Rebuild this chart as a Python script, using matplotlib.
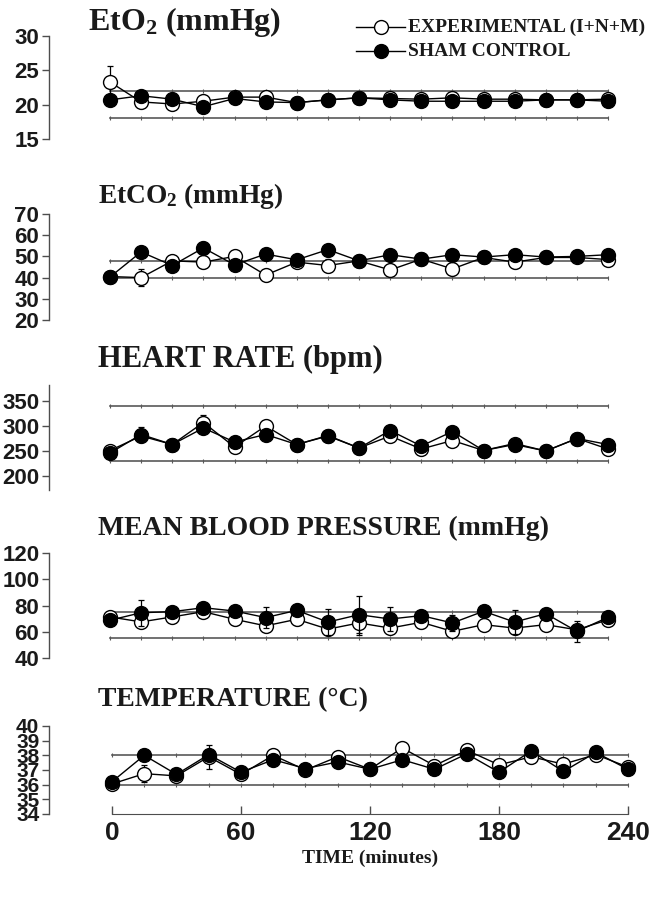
# physiological parameters over time, two groups, five stacked panels

import matplotlib.pyplot as plt
from matplotlib.lines import Line2D

plt.rcParams['font.family'] = ['Liberation Sans Narrow', 'Liberation Sans', 'DejaVu Sans']
plt.rcParams['mathtext.fontset'] = 'custom'
plt.rcParams['mathtext.rm'] = 'Liberation Serif:bold'
plt.rcParams['mathtext.it'] = 'Liberation Serif:bold'
plt.rcParams['mathtext.bf'] = 'Liberation Serif:bold'

# --------- Data ---------
time_min = [0, 15, 30, 45, 60, 75, 90, 105, 120, 135, 150, 165, 180, 195, 210, 225, 240]

eto2_exp = [23.3, 20.4, 20.1, 20.5, 21.1, 21.1, 20.3, 20.7, 21.0, 20.9, 20.8, 21.0, 20.8, 20.8, 20.7, 20.7, 20.8]
eto2_exp_err = [2.4, 0.5, 0.6, 0.4, 0.3, 0.3, 0.2, 0.3, 0.2, 0.3, 0.3, 0.3, 0.3, 0.3, 0.2, 0.2, 0.3]
eto2_sham = [20.7, 21.3, 20.8, 19.7, 20.9, 20.4, 20.3, 20.7, 21.0, 20.7, 20.5, 20.5, 20.5, 20.5, 20.7, 20.7, 20.5]
eto2_sham_err = [0.3] * 17

etco2_exp = [40.5, 40.0, 47.9, 47.3, 50.0, 41.2, 47.3, 45.7, 47.9, 43.6, 48.7, 44.1, 49.5, 47.3, 49.5, 49.5, 48.5]
etco2_exp_err = [1, 4, 2, 3, 2, 2, 2, 3, 2, 2, 2, 3, 2, 3, 2, 2, 2]
etco2_sham = [40.3, 52.1, 45.7, 54.0, 46.0, 51.1, 48.4, 53.2, 47.9, 50.8, 48.7, 50.8, 49.7, 50.8, 49.7, 50.0, 50.8]
etco2_sham_err = [1, 2, 2, 3, 2, 2, 2, 2, 2, 2, 2, 2, 2, 2, 2, 2, 2]

hr_exp = [251, 280, 263, 307, 258, 300, 263, 280, 256, 280, 254, 271, 251, 265, 250, 275, 254]
hr_exp_err = [8, 10, 6, 15, 10, 10, 6, 6, 5, 8, 8, 10, 6, 8, 5, 6, 8]
hr_sham = [246, 283, 263, 296, 268, 283, 263, 281, 256, 291, 260, 289, 251, 263, 250, 275, 263]
hr_sham_err = [6, 15, 6, 8, 8, 8, 6, 6, 5, 8, 6, 8, 5, 6, 5, 6, 6]

mbp_exp = [71.3, 67.5, 71.3, 75.3, 69.5, 64.5, 69.5, 62.0, 66.7, 62.8, 67.2, 60.3, 65.4, 62.8, 65.4, 61.5, 69.2]
mbp_exp_err = [3, 4, 3, 3, 4, 4, 4, 4, 9, 4, 4, 4, 4, 4, 4, 4, 3]
mbp_sham = [68.8, 74.5, 75.3, 78.3, 75.8, 70.8, 76.3, 67.4, 73.0, 69.7, 72.3, 66.7, 75.6, 67.4, 73.8, 60.3, 71.0]
mbp_sham_err = [3, 10, 3, 3, 3, 8, 3, 10, 14, 9, 3, 6, 3, 9, 3, 8, 3]

temp_exp = [36.05, 36.75, 36.6, 37.9, 36.7, 38.0, 37.0, 37.9, 37.05, 38.5, 37.3, 38.35, 37.35, 37.9, 37.4, 38.05, 37.2]
temp_exp_err = [0.2, 0.6, 0.2, 0.8, 0.3, 0.2, 0.2, 0.2, 0.1, 0.3, 0.2, 0.3, 0.3, 0.3, 0.2, 0.2, 0.2]
temp_sham = [36.2, 38.0, 36.7, 38.05, 36.85, 37.7, 37.1, 37.55, 37.05, 37.7, 37.05, 38.1, 36.85, 38.3, 36.9, 38.2, 37.05]
temp_sham_err = [0.2] * 17

# normal ranges (lower, upper)
eto2_range = [18, 22]
etco2_range = [40, 48]
hr_range = [230, 340]
mbp_range = [55, 75]
temp_range = [36, 38]

titles = ["EtO$_2$ (mmHg)", "EtCO$_2$ (mmHg)", "HEART RATE (bpm)",
          "MEAN BLOOD PRESSURE (mmHg)", "TEMPERATURE (\u00b0C)"]
yticks = [[15, 20, 25, 30], [20, 30, 40, 50, 60, 70], [200, 250, 300, 350],
          [40, 60, 80, 100, 120], [34, 35, 36, 37, 38, 39, 40]]
xticks = [0, 60, 120, 180, 240]

panels = [
    (eto2_exp, eto2_exp_err, eto2_sham, eto2_sham_err, eto2_range),
    (etco2_exp, etco2_exp_err, etco2_sham, etco2_sham_err, etco2_range),
    (hr_exp, hr_exp_err, hr_sham, hr_sham_err, hr_range),
    (mbp_exp, mbp_exp_err, mbp_sham, mbp_sham_err, mbp_range),
    (temp_exp, temp_exp_err, temp_sham, temp_sham_err, temp_range),
]

# --------- Layout (pixels of a 652x899 canvas) ---------
W, H = 652, 899
AX_LEFT, AX_RIGHT = 49, 640
ax_tops = [36, 214, 385, 553, 726]
ax_bottoms = [139, 320, 490, 658, 814]
ylims = [(15, 30), (20, 70), (172, 382), (40, 120), (34, 40)]
xlims = [(-29.4, 255.4)] * 4 + [(-29.3, 245.6)]
title_pos = [(88, 22, 23), (98, 196, 19.7), (98, 359, 22), (98, 528, 20), (98, 700, 20)]

fig = plt.figure(figsize=(W / 100, H / 100), dpi=100)

serif = {'family': 'Liberation Serif', 'weight': 'bold'}

for i, (exp, exp_err, sham, sham_err, rng) in enumerate(panels):
    top, bot = ax_tops[i], ax_bottoms[i]
    ax = fig.add_axes([AX_LEFT / W, 1 - bot / H, (AX_RIGHT - AX_LEFT) / W, (bot - top) / H])
    ax.set_xlim(*xlims[i])
    ax.set_ylim(*ylims[i])

    # normal range lines
    for lvl in rng:
        ax.plot(time_min, [lvl] * len(time_min), color='0.35', lw=1.2,
                marker='|', ms=2.5, mew=0.8, zorder=1)

    ax.errorbar(time_min, exp, yerr=exp_err, fmt='none', ecolor='black',
                elinewidth=0.9, capsize=2.5, capthick=0.9, zorder=2)
    ax.plot(time_min, exp, color='black', lw=1.0, marker='o', ms=10,
            mfc='white', mec='black', mew=1.0, zorder=3)
    ax.errorbar(time_min, sham, yerr=sham_err, fmt='none', ecolor='black',
                elinewidth=0.9, capsize=2.5, capthick=0.9, zorder=3.5)
    ax.plot(time_min, sham, color='black', lw=1.0, marker='o', ms=10,
            mfc='black', mec='black', zorder=4)

    for side in ['top', 'right']:
        ax.spines[side].set_visible(False)
    ax.spines['left'].set_color('0.3')
    ax.spines['left'].set_linewidth(1.0)
    ax.set_yticks(yticks[i])
    ax.tick_params(axis='y', direction='out', length=5, width=1, pad=2, colors='0.3',
                   labelcolor='#1a1a1a', labelsize=16 if i < 4 else 15)
    for lab in ax.get_yticklabels():
        lab.set_fontweight('bold')

    if i < 4:
        ax.spines['bottom'].set_visible(False)
        ax.set_xticks([])
    else:
        ax.spines['bottom'].set_bounds(0, 240)
        ax.spines['bottom'].set_color('0.3')
        ax.set_xticks(xticks)
        ax.tick_params(axis='x', direction='in', length=6, width=1, pad=5,
                       colors='0.3', labelcolor='#1a1a1a', labelsize=19)
        for lab in ax.get_xticklabels():
            lab.set_fontweight('bold')

    tx, ty, tsize = title_pos[i]
    fig.text(tx / W, 1 - ty / H, titles[i], fontdict=serif, fontsize=tsize,
             ha='left', va='center', color='#1a1a1a')

fig.text(370 / W, 1 - 858 / H, "TIME (minutes)", fontdict=serif, fontsize=14,
         ha='center', va='center', color='#1a1a1a')

# --------- Legend ---------
for y, face, label in [(27, 'white', "EXPERIMENTAL (I+N+M)"), (51, 'black', "SHAM CONTROL")]:
    fy = 1 - y / H
    fig.add_artist(Line2D([356 / W, 405 / W], [fy, fy], color='black', lw=1.0,
                          transform=fig.transFigure))
    fig.add_artist(Line2D([381 / W], [fy], marker='o', ms=10, mfc=face, mec='black',
                          mew=1.0, transform=fig.transFigure))
    fig.text(408 / W, fy, label, fontdict=serif, fontsize=14, ha='left', va='center',
             color='#1a1a1a')

fig.savefig("out.png", dpi=100)
